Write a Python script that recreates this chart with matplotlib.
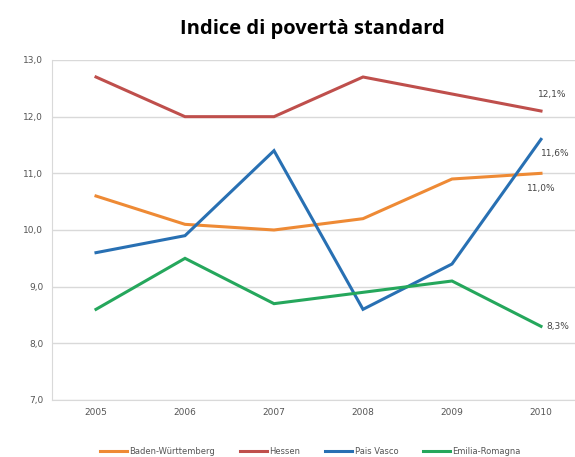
import matplotlib
matplotlib.use("Agg")
import matplotlib.pyplot as plt

years = ["2005", "2006", "2007", "2008", "2009", "2010"]
baden = [10.6, 10.1, 10.0, 10.2, 10.9, 11.0]
hessen = [12.7, 12.0, 12.0, 12.7, 12.4, 12.1]
pais_vasco = [9.6, 9.9, 11.4, 8.6, 9.4, 11.6]
emilia = [8.6, 9.5, 8.7, 8.9, 9.1, 8.3]
series_names = ["Baden-Württemberg", "Hessen", "Pais Vasco", "Emilia-Romagna"]
end_labels = ["11,0%", "12,1%", "11,6%", "8,3%"]
yticks = [7, 8, 9, 10, 11, 12, 13]

colors = ["#EE8A35", "#BF4F4C", "#2870B3", "#25A75C"]

fig = plt.figure(figsize=(5.75, 4.57), dpi=100)
# axes runs slightly past the right edge, as in the cropped original
ax = fig.add_axes([51.5 / 575, 57 / 457, 534 / 575, 340 / 457])

x = range(len(years))
for vals, name, c in zip([baden, hessen, pais_vasco, emilia], series_names, colors):
    ax.plot(x, vals, color=c, lw=2.2, label=name, solid_joinstyle="miter")

ax.set_xlim(-0.5, 5.5)
ax.set_ylim(7, 13)
ax.set_yticks(yticks)
ax.set_yticklabels([f"{v:.1f}".replace(".", ",") for v in yticks])
ax.set_xticks(list(x))
ax.set_xticklabels(years)
ax.tick_params(labelsize=6.5, colors="#555555", length=0, pad=6)
ax.grid(axis="y", color="#D9D9D9", lw=1)
ax.set_axisbelow(True)
for s in ["top", "right"]:
    ax.spines[s].set_visible(False)
ax.spines["left"].set_color("#D9D9D9")
ax.spines["bottom"].set_color("#D9D9D9")

# value labels at the last year
last = len(years) - 1
ax.annotate(end_labels[1], (last, hessen[-1]), xytext=(8, 12), textcoords="offset points",
            fontsize=6.5, color="#444444", ha="center", va="center")
ax.annotate(end_labels[2], (last, pais_vasco[-1]), xytext=(10, -10), textcoords="offset points",
            fontsize=6.5, color="#444444", ha="center", va="center")
ax.annotate(end_labels[0], (last, baden[-1]), xytext=(0, -11), textcoords="offset points",
            fontsize=6.5, color="#444444", ha="center", va="center")
ax.annotate(end_labels[3], (last, emilia[-1]), xytext=(12, 0), textcoords="offset points",
            fontsize=6.5, color="#444444", ha="center", va="center")

fig.text(312 / 575, 1 - 29 / 457, "Indice di povertà standard", ha="center", va="center",
         fontsize=14.5, fontweight="bold", family="Open Sans")

fig.legend(loc="center", bbox_to_anchor=(0.54, 1 - 451 / 457), ncol=4, frameon=False,
           fontsize=6, handlelength=3.2, columnspacing=3.0, handletextpad=0.3,
           labelcolor="#555555")

fig.savefig("out.png", dpi=100)
